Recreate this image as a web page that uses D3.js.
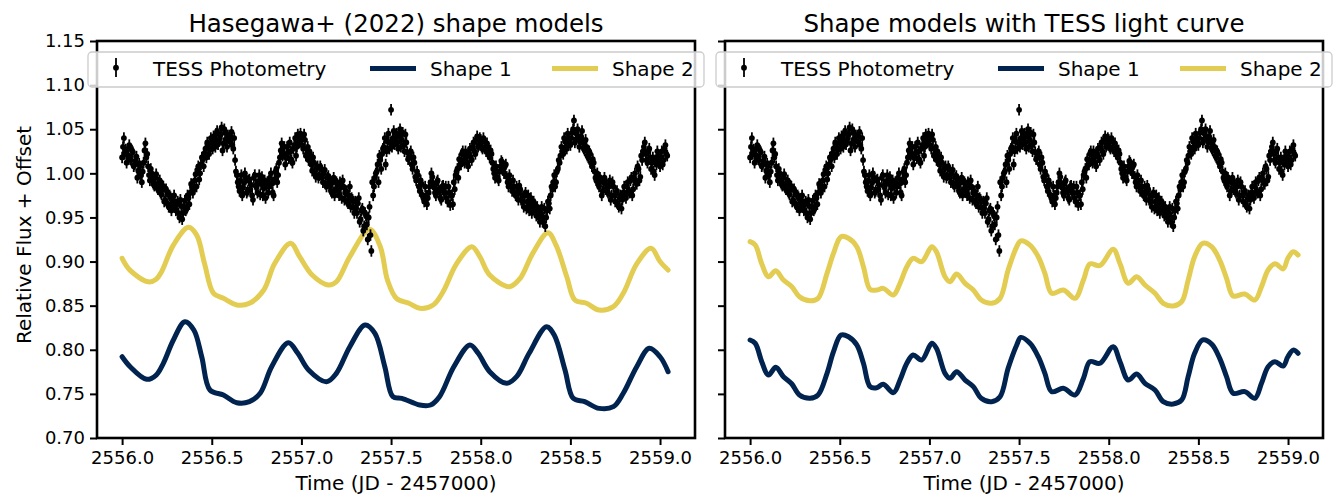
<!DOCTYPE html>
<html>
<head>
<meta charset="utf-8">
<script src="https://d3js.org/d3.v7.min.js"></script>
<style>
  body { margin: 0; background: #fff; }
  svg { display: block; }
  text { font-family: "DejaVu Sans", sans-serif; fill: #000; }
</style>
</head>
<body>
<div id="chart"></div>
<script>
const photTime = [
  2556.00,2556.01,2556.02,2556.03,2556.04,2556.05,2556.06,2556.07,2556.08,2556.09,
  2556.10,2556.11,2556.12,2556.13,2556.14,2556.15,2556.16,2556.17,2556.18,2556.19,
  2556.20,2556.21,2556.22,2556.23,2556.24,2556.25,2556.26,2556.27,2556.28,2556.29,
  2556.30,2556.31,2556.32,2556.33,2556.34,2556.35,2556.36,2556.37,2556.38,2556.39,
  2556.40,2556.41,2556.42,2556.43,2556.44,2556.45,2556.46,2556.47,2556.48,2556.49,
  2556.50,2556.51,2556.52,2556.53,2556.54,2556.55,2556.56,2556.57,2556.58,2556.59,
  2556.60,2556.61,2556.62,2556.63,2556.64,2556.65,2556.66,2556.67,2556.68,2556.69,
  2556.70,2556.71,2556.72,2556.73,2556.74,2556.75,2556.76,2556.77,2556.78,2556.79,
  2556.80,2556.81,2556.82,2556.83,2556.84,2556.85,2556.86,2556.87,2556.88,2556.89,
  2556.90,2556.91,2556.92,2556.93,2556.94,2556.95,2556.96,2556.97,2556.98,2556.99,
  2557.00,2557.01,2557.02,2557.03,2557.04,2557.05,2557.06,2557.07,2557.08,2557.09,
  2557.10,2557.11,2557.12,2557.13,2557.14,2557.15,2557.16,2557.17,2557.18,2557.19,
  2557.20,2557.21,2557.22,2557.23,2557.24,2557.25,2557.26,2557.27,2557.28,2557.29,
  2557.30,2557.31,2557.32,2557.33,2557.34,2557.35,2557.36,2557.37,2557.38,2557.39,
  2557.40,2557.41,2557.42,2557.43,2557.44,2557.45,2557.46,2557.47,2557.48,2557.49,
  2557.50,2557.51,2557.52,2557.53,2557.54,2557.55,2557.56,2557.57,2557.58,2557.59,
  2557.60,2557.61,2557.62,2557.63,2557.64,2557.65,2557.66,2557.67,2557.68,2557.69,
  2557.70,2557.71,2557.72,2557.73,2557.74,2557.75,2557.76,2557.77,2557.78,2557.79,
  2557.80,2557.81,2557.82,2557.83,2557.84,2557.85,2557.86,2557.87,2557.88,2557.89,
  2557.90,2557.91,2557.92,2557.93,2557.94,2557.95,2557.96,2557.97,2557.98,2557.99,
  2558.00,2558.01,2558.02,2558.03,2558.04,2558.05,2558.06,2558.07,2558.08,2558.09,
  2558.10,2558.11,2558.12,2558.13,2558.14,2558.15,2558.16,2558.17,2558.18,2558.19,
  2558.20,2558.21,2558.22,2558.23,2558.24,2558.25,2558.26,2558.27,2558.28,2558.29,
  2558.30,2558.31,2558.32,2558.33,2558.34,2558.35,2558.36,2558.37,2558.38,2558.39,
  2558.40,2558.41,2558.42,2558.43,2558.44,2558.45,2558.46,2558.47,2558.48,2558.49,
  2558.50,2558.51,2558.52,2558.53,2558.54,2558.55,2558.56,2558.57,2558.58,2558.59,
  2558.60,2558.61,2558.62,2558.63,2558.64,2558.65,2558.66,2558.67,2558.68,2558.69,
  2558.70,2558.71,2558.72,2558.73,2558.74,2558.75,2558.76,2558.77,2558.78,2558.79,
  2558.80,2558.81,2558.82,2558.83,2558.84,2558.85,2558.86,2558.87,2558.88,2558.89,
  2558.90,2558.91,2558.92,2558.93,2558.94,2558.95,2558.96,2558.97,2558.98,2558.99,
  2559.00,2559.01,2559.02,2559.03,2559.04
];
const photFlux = [
  1.018,1.040,1.027,1.021,1.032,1.015,1.024,1.010,1.019,1.003,
  1.008,0.990,1.012,1.034,1.022,0.998,1.005,0.994,0.986,0.999,
  0.982,0.992,0.976,0.985,0.970,0.979,0.962,0.973,0.966,0.975,
  0.958,0.968,0.950,0.963,0.955,0.969,0.960,0.972,0.978,0.985,
  0.982,0.999,1.004,0.993,1.010,1.016,1.023,1.018,1.030,1.027,
  1.035,1.042,1.030,1.048,1.037,1.044,1.026,1.050,1.039,1.043,
  1.036,1.047,1.028,1.015,0.998,0.985,0.992,0.975,0.989,0.995,
  0.980,0.993,0.987,0.970,0.998,0.984,0.991,0.976,0.996,0.983,
  0.972,0.990,0.985,1.000,0.978,0.993,1.005,0.998,1.018,1.034,
  1.022,1.010,1.030,1.017,1.025,1.012,1.032,1.020,1.044,1.035,
  1.040,1.028,1.038,1.022,1.015,1.020,1.003,1.012,0.996,1.008,
  0.998,1.005,0.990,1.004,0.985,0.997,0.992,0.978,0.995,0.982,
  0.988,0.975,0.984,0.992,0.970,0.980,0.966,0.985,0.972,0.961,
  0.968,0.955,0.972,0.948,0.960,0.940,0.952,0.925,0.962,0.912,
  0.975,0.995,1.002,0.990,1.015,1.022,1.030,1.010,1.036,1.028,
  1.072,1.040,1.033,1.045,1.028,1.050,1.038,1.032,1.044,1.024,
  1.018,1.025,1.005,1.012,0.992,0.998,0.980,0.988,0.972,0.985,
  0.965,0.978,0.990,0.996,0.984,0.975,0.992,0.980,0.970,0.986,
  0.978,0.972,0.985,0.964,0.975,0.990,0.998,1.005,1.016,1.010,
  1.025,1.012,1.020,1.008,1.028,1.015,1.035,1.022,1.042,1.032,
  1.038,1.028,1.036,1.025,1.030,1.018,1.022,1.005,0.995,1.002,
  0.992,1.008,1.012,1.000,1.010,0.990,0.998,0.985,0.992,0.978,
  0.985,0.970,0.982,0.975,0.962,0.978,0.968,0.958,0.972,0.960,
  0.965,0.952,0.958,0.945,0.962,0.950,0.940,0.958,0.966,0.975,
  0.982,0.998,0.990,1.005,1.012,1.030,1.022,1.036,1.028,1.040,
  1.032,1.046,1.060,1.038,1.050,1.030,1.042,1.035,1.026,1.030,
  1.018,1.022,1.008,1.012,0.995,1.000,0.985,0.992,0.980,0.995,
  0.988,0.978,0.992,0.975,0.985,0.968,0.980,0.962,0.975,0.970,
  0.985,0.972,0.990,0.978,0.995,0.982,1.000,0.988,1.005,0.996,
  1.015,1.030,1.022,1.012,1.028,1.005,1.018,0.998,1.010,1.020,
  1.008,1.025,1.015,1.032,1.020
];
const photTimeMid = [
  2556.005,2556.015,2556.025,2556.035,2556.045,2556.055,2556.065,2556.075,2556.085,2556.095,
  2556.105,2556.115,2556.125,2556.135,2556.145,2556.155,2556.165,2556.175,2556.185,2556.195,
  2556.205,2556.215,2556.225,2556.235,2556.245,2556.255,2556.265,2556.275,2556.285,2556.295,
  2556.305,2556.315,2556.325,2556.335,2556.345,2556.355,2556.365,2556.375,2556.385,2556.395,
  2556.405,2556.415,2556.425,2556.435,2556.445,2556.455,2556.465,2556.475,2556.485,2556.495,
  2556.505,2556.515,2556.525,2556.535,2556.545,2556.555,2556.565,2556.575,2556.585,2556.595,
  2556.605,2556.615,2556.625,2556.635,2556.645,2556.655,2556.665,2556.675,2556.685,2556.695,
  2556.705,2556.715,2556.725,2556.735,2556.745,2556.755,2556.765,2556.775,2556.785,2556.795,
  2556.805,2556.815,2556.825,2556.835,2556.845,2556.855,2556.865,2556.875,2556.885,2556.895,
  2556.905,2556.915,2556.925,2556.935,2556.945,2556.955,2556.965,2556.975,2556.985,2556.995,
  2557.005,2557.015,2557.025,2557.035,2557.045,2557.055,2557.065,2557.075,2557.085,2557.095,
  2557.105,2557.115,2557.125,2557.135,2557.145,2557.155,2557.165,2557.175,2557.185,2557.195,
  2557.205,2557.215,2557.225,2557.235,2557.245,2557.255,2557.265,2557.275,2557.285,2557.295,
  2557.305,2557.315,2557.325,2557.335,2557.345,2557.355,2557.365,2557.375,2557.385,2557.395,
  2557.405,2557.415,2557.425,2557.435,2557.445,2557.455,2557.465,2557.475,2557.485,2557.495,
  2557.505,2557.515,2557.525,2557.535,2557.545,2557.555,2557.565,2557.575,2557.585,2557.595,
  2557.605,2557.615,2557.625,2557.635,2557.645,2557.655,2557.665,2557.675,2557.685,2557.695,
  2557.705,2557.715,2557.725,2557.735,2557.745,2557.755,2557.765,2557.775,2557.785,2557.795,
  2557.805,2557.815,2557.825,2557.835,2557.845,2557.855,2557.865,2557.875,2557.885,2557.895,
  2557.905,2557.915,2557.925,2557.935,2557.945,2557.955,2557.965,2557.975,2557.985,2557.995,
  2558.005,2558.015,2558.025,2558.035,2558.045,2558.055,2558.065,2558.075,2558.085,2558.095,
  2558.105,2558.115,2558.125,2558.135,2558.145,2558.155,2558.165,2558.175,2558.185,2558.195,
  2558.205,2558.215,2558.225,2558.235,2558.245,2558.255,2558.265,2558.275,2558.285,2558.295,
  2558.305,2558.315,2558.325,2558.335,2558.345,2558.355,2558.365,2558.375,2558.385,2558.395,
  2558.405,2558.415,2558.425,2558.435,2558.445,2558.455,2558.465,2558.475,2558.485,2558.495,
  2558.505,2558.515,2558.525,2558.535,2558.545,2558.555,2558.565,2558.575,2558.585,2558.595,
  2558.605,2558.615,2558.625,2558.635,2558.645,2558.655,2558.665,2558.675,2558.685,2558.695,
  2558.705,2558.715,2558.725,2558.735,2558.745,2558.755,2558.765,2558.775,2558.785,2558.795,
  2558.805,2558.815,2558.825,2558.835,2558.845,2558.855,2558.865,2558.875,2558.885,2558.895,
  2558.905,2558.915,2558.925,2558.935,2558.945,2558.955,2558.965,2558.975,2558.985,2558.995,
  2559.005,2559.015,2559.025,2559.035
];
const photFluxMid = [
  1.030,1.022,1.012,1.028,1.016,1.026,1.008,1.014,0.995,1.011,
  0.998,1.002,1.026,1.018,1.008,0.992,1.000,0.988,0.995,0.984,
  0.990,0.978,0.986,0.968,0.982,0.965,0.975,0.958,0.970,0.962,
  0.965,0.955,0.970,0.948,0.962,0.958,0.975,0.965,0.988,0.978,
  0.992,0.985,1.008,1.000,1.018,1.008,1.028,1.035,1.022,1.040,
  1.028,1.038,1.045,1.033,1.040,1.052,1.034,1.046,1.030,1.040,
  1.042,1.032,1.040,1.002,0.990,0.980,0.998,0.984,1.000,0.978,
  0.992,0.982,0.975,0.995,0.986,0.978,0.998,0.988,0.975,0.992,
  0.985,0.978,0.995,0.988,0.975,1.002,0.990,1.012,1.026,1.020,
  1.030,1.018,1.024,1.035,1.015,1.028,1.040,1.030,1.036,1.045,
  1.032,1.044,1.020,1.030,1.025,1.010,1.018,1.000,1.006,0.995,
  1.008,0.995,1.000,0.988,0.995,0.986,0.980,0.990,0.975,0.990,
  0.980,0.990,0.972,0.985,0.978,0.968,0.975,0.962,0.970,0.955,
  0.960,0.966,0.945,0.958,0.935,0.955,0.942,0.950,0.930,0.990,
  0.985,1.000,1.010,1.020,1.005,1.028,1.040,1.025,1.045,1.035,
  1.030,1.048,1.038,1.035,1.042,1.030,1.046,1.025,1.035,1.016,
  1.022,1.010,1.018,0.996,1.002,0.985,0.992,0.975,0.968,0.975,
  0.972,0.985,1.000,0.988,0.978,0.990,0.982,0.972,0.985,0.978,
  0.985,0.968,0.978,0.975,0.965,0.982,1.002,0.995,1.010,1.022,
  1.015,1.025,1.012,1.022,1.018,1.030,1.025,1.038,1.030,1.040,
  1.030,1.040,1.028,1.034,1.022,1.026,1.012,1.000,1.008,0.995,
  1.002,1.014,1.004,1.008,0.996,0.985,0.992,0.980,0.985,0.975,
  0.978,0.986,0.970,0.968,0.975,0.960,0.975,0.965,0.955,0.968,
  0.958,0.962,0.950,0.955,0.945,0.960,0.950,0.968,0.960,0.985,
  0.990,0.985,1.002,1.015,1.020,1.025,1.040,1.030,1.045,1.035,
  1.040,1.050,1.035,1.045,1.040,1.036,1.048,1.028,1.038,1.020,
  1.025,1.012,1.016,1.002,0.992,0.988,0.995,0.975,0.990,0.982,
  0.980,0.985,0.970,0.990,0.975,0.978,0.965,0.972,0.960,0.978,
  0.975,0.985,0.980,0.992,0.975,0.995,0.990,1.008,0.992,1.020,
  1.025,1.035,1.015,1.025,1.018,1.012,1.002,1.015,1.025,1.012,
  1.018,1.010,1.028,1.022
];
const photErr = 0.0065;

// left panel: Hasegawa+ (2022) shape models
const leftShape1Time = [2556.000,2556.045,2556.137,2556.190,2556.230,2556.286,2556.350,2556.400,2556.444,2556.490,2556.565,2556.640,2556.710,2556.770,2556.834,2556.927,2556.980,2557.040,2557.140,2557.195,2557.270,2557.355,2557.410,2557.465,2557.510,2557.560,2557.660,2557.720,2557.770,2557.850,2557.940,2557.986,2558.050,2558.144,2558.200,2558.270,2558.367,2558.410,2558.470,2558.516,2558.580,2558.660,2558.740,2558.795,2558.870,2558.940,2559.000,2559.045];
const leftShape1Flux = [0.7921,0.7808,0.7665,0.7714,0.7847,0.8111,0.8318,0.8224,0.7921,0.7544,0.7487,0.7400,0.7412,0.7507,0.7808,0.8080,0.7960,0.7771,0.7638,0.7733,0.8035,0.8281,0.8186,0.7808,0.7468,0.7450,0.7374,0.7374,0.7468,0.7808,0.8055,0.7960,0.7752,0.7620,0.7695,0.7960,0.8262,0.8167,0.7771,0.7450,0.7412,0.7336,0.7355,0.7507,0.7808,0.8017,0.7921,0.7752];
const leftShape2Time = [2556.000,2556.045,2556.147,2556.190,2556.220,2556.286,2556.370,2556.416,2556.460,2556.510,2556.565,2556.640,2556.710,2556.790,2556.850,2556.940,2556.990,2557.060,2557.150,2557.195,2557.270,2557.380,2557.440,2557.480,2557.530,2557.600,2557.660,2557.735,2557.790,2557.865,2557.950,2557.995,2558.050,2558.160,2558.220,2558.290,2558.375,2558.420,2558.480,2558.525,2558.590,2558.660,2558.740,2558.795,2558.870,2558.950,2559.000,2559.045];
const leftShape2Flux = [0.9037,0.8900,0.8770,0.8800,0.8885,0.9187,0.9388,0.9300,0.8974,0.8640,0.8583,0.8508,0.8527,0.8677,0.8974,0.9207,0.9055,0.8847,0.8734,0.8771,0.9055,0.9365,0.9168,0.8790,0.8583,0.8527,0.8470,0.8508,0.8658,0.8974,0.9168,0.9055,0.8847,0.8715,0.8810,0.9093,0.9327,0.9187,0.8828,0.8564,0.8527,0.8450,0.8489,0.8640,0.8974,0.9150,0.9000,0.8904];

// right panel: shape models with TESS light curve
const rightModelTime = [2556.000,2556.029,2556.065,2556.102,2556.143,2556.186,2556.233,2556.275,2556.335,2556.379,2556.429,2556.465,2556.507,2556.549,2556.595,2556.632,2556.669,2556.706,2556.743,2556.799,2556.836,2556.874,2556.909,2556.957,2557.013,2557.039,2557.087,2557.115,2557.152,2557.199,2557.245,2557.289,2557.347,2557.394,2557.439,2557.487,2557.510,2557.561,2557.607,2557.644,2557.682,2557.747,2557.812,2557.859,2557.895,2557.951,2558.025,2558.063,2558.109,2558.156,2558.202,2558.258,2558.304,2558.360,2558.407,2558.443,2558.479,2558.524,2558.574,2558.619,2558.657,2558.694,2558.759,2558.815,2558.852,2558.889,2558.927,2558.973,2558.999,2559.029,2559.056];
const rightShape1Flux = [0.8111,0.8073,0.7865,0.7714,0.7801,0.7695,0.7612,0.7487,0.7450,0.7487,0.7733,0.7978,0.8167,0.8148,0.8055,0.7847,0.7582,0.7570,0.7610,0.7514,0.7657,0.7847,0.7941,0.7884,0.8073,0.8017,0.7733,0.7676,0.7752,0.7657,0.7582,0.7450,0.7412,0.7468,0.7790,0.8055,0.8140,0.8073,0.7921,0.7733,0.7525,0.7563,0.7487,0.7676,0.7865,0.7847,0.8035,0.7865,0.7657,0.7725,0.7620,0.7544,0.7412,0.7385,0.7431,0.7695,0.7960,0.8111,0.8065,0.7903,0.7695,0.7507,0.7525,0.7450,0.7620,0.7808,0.7865,0.7816,0.7921,0.7996,0.7960];
const rightShape2Flux = [0.9225,0.9187,0.8974,0.8828,0.8896,0.8790,0.8715,0.8602,0.8556,0.8583,0.8866,0.9093,0.9282,0.9264,0.9168,0.8942,0.8685,0.8677,0.8696,0.8621,0.8753,0.8942,0.9037,0.8998,0.9168,0.9112,0.8828,0.8771,0.8859,0.8753,0.8677,0.8564,0.8527,0.8583,0.8904,0.9168,0.9235,0.9187,0.9055,0.8866,0.8640,0.8677,0.8583,0.8790,0.8974,0.8955,0.9139,0.8974,0.8753,0.8828,0.8734,0.8640,0.8527,0.8496,0.8545,0.8790,0.9055,0.9207,0.9168,0.9017,0.8810,0.8610,0.8632,0.8564,0.8715,0.8904,0.8974,0.8917,0.9037,0.9112,0.9074];

const xTicks = [2556.0, 2556.5, 2557.0, 2557.5, 2558.0, 2558.5, 2559.0];
const yTicks = [0.70, 0.75, 0.80, 0.85, 0.90, 0.95, 1.00, 1.05, 1.10, 1.15];
const xDomain = [2555.86, 2559.195];
const yDomain = [0.70, 1.15];

const legendLabels = ["TESS Photometry", "Shape 1", "Shape 2"];
const titles = ["Hasegawa+ (2022) shape models", "Shape models with TESS light curve"];

const navy = "#00234f";
const yellow = "#e3cc52";

const width = 1338, height = 502;
const plotTop = 41, plotBottom = 438, plotWidth = 598;
const panelLefts = [97, 725];

const svg = d3.select("#chart").append("svg")
    .attr("width", width)
    .attr("height", height);

const y = d3.scaleLinear().domain(yDomain).range([plotBottom, plotTop]);

const photPoints = d3.zip(photTime, photFlux).concat(d3.zip(photTimeMid, photFluxMid));

function drawPanel(i, s1t, s1f, s2t, s2f) {
    const left = panelLefts[i];
    const x = d3.scaleLinear().domain(xDomain).range([left, left + plotWidth]);
    const g = svg.append("g");

    const line = d3.line()
        .x(d => x(d[0]))
        .y(d => y(d[1]))
        .curve(d3.curveCatmullRom.alpha(0.5));

    // model curves
    [[s1t, s1f, navy], [s2t, s2f, yellow]].forEach(c => {
        g.append("path")
            .datum(d3.zip(c[0], c[1]))
            .attr("d", line)
            .attr("fill", "none")
            .attr("stroke", c[2])
            .attr("stroke-width", 5)
            .attr("stroke-linejoin", "round")
            .attr("stroke-linecap", "round");
    });

    // photometry with error bars
    g.append("g").selectAll("line").data(photPoints).join("line")
        .attr("x1", d => x(d[0]))
        .attr("x2", d => x(d[0]))
        .attr("y1", d => y(d[1] - photErr))
        .attr("y2", d => y(d[1] + photErr))
        .attr("stroke", "#000")
        .attr("stroke-width", 1.8);
    g.append("g").selectAll("circle").data(photPoints).join("circle")
        .attr("cx", d => x(d[0]))
        .attr("cy", d => y(d[1]))
        .attr("r", 2.9)
        .attr("fill", "#000");

    // axes
    const xAxis = d3.axisBottom(x)
        .tickValues(xTicks)
        .tickFormat(d3.format(".1f"))
        .tickSizeOuter(0)
        .tickSize(7)
        .tickPadding(6);
    const gx = g.append("g")
        .attr("transform", `translate(0,${plotBottom})`)
        .call(xAxis);

    const yAxis = d3.axisLeft(y)
        .tickValues(yTicks)
        .tickFormat(i === 0 ? d3.format(".2f") : () => "")
        .tickSizeOuter(0)
        .tickSize(7)
        .tickPadding(5);
    const gy = g.append("g")
        .attr("transform", `translate(${left},0)`)
        .call(yAxis);

    [gx, gy].forEach(a => {
        a.select(".domain").remove();
        a.selectAll(".tick line").attr("stroke", "#000").attr("stroke-width", 2);
        a.selectAll(".tick text").style("font-size", "18px").attr("fill", "#000");
    });

    // frame
    g.append("rect")
        .attr("x", left)
        .attr("y", plotTop)
        .attr("width", plotWidth)
        .attr("height", plotBottom - plotTop)
        .attr("fill", "none")
        .attr("stroke", "#000")
        .attr("stroke-width", 2.6);

    // title
    g.append("text")
        .attr("x", left + plotWidth / 2)
        .attr("y", 32)
        .attr("text-anchor", "middle")
        .style("font-size", "24.5px")
        .text(titles[i]);

    // x label
    g.append("text")
        .attr("x", left + plotWidth / 2)
        .attr("y", 490)
        .attr("text-anchor", "middle")
        .style("font-size", "20px")
        .text("Time (JD - 2457000)");

    // legend
    const lg = g.append("g").attr("transform", `translate(${left - 9},52)`);
    lg.append("rect")
        .attr("width", 616)
        .attr("height", 35)
        .attr("rx", 4)
        .attr("fill", "#fff")
        .attr("fill-opacity", 0.8)
        .attr("stroke", "#cccccc")
        .attr("stroke-width", 1.3);
    lg.append("line")
        .attr("x1", 28).attr("x2", 28)
        .attr("y1", 6).attr("y2", 25)
        .attr("stroke", "#000").attr("stroke-width", 1.8);
    lg.append("circle")
        .attr("cx", 28).attr("cy", 15.7).attr("r", 2.9).attr("fill", "#000");
    lg.append("line")
        .attr("x1", 282).attr("x2", 328)
        .attr("y1", 16.5).attr("y2", 16.5)
        .attr("stroke", navy).attr("stroke-width", 5);
    lg.append("line")
        .attr("x1", 464).attr("x2", 510)
        .attr("y1", 16.5).attr("y2", 16.5)
        .attr("stroke", yellow).attr("stroke-width", 5);
    [65, 342, 524].forEach((tx, k) => {
        lg.append("text")
            .attr("x", tx)
            .attr("y", 23.5)
            .style("font-size", "20px")
            .text(legendLabels[k]);
    });
}

drawPanel(0, leftShape1Time, leftShape1Flux, leftShape2Time, leftShape2Flux);
drawPanel(1, rightModelTime, rightShape1Flux, rightModelTime, rightShape2Flux);

// shared y label
svg.append("text")
    .attr("transform", `translate(31,235) rotate(-90)`)
    .attr("text-anchor", "middle")
    .style("font-size", "20px")
    .text("Relative Flux + Offset");
</script>
</body>
</html>
